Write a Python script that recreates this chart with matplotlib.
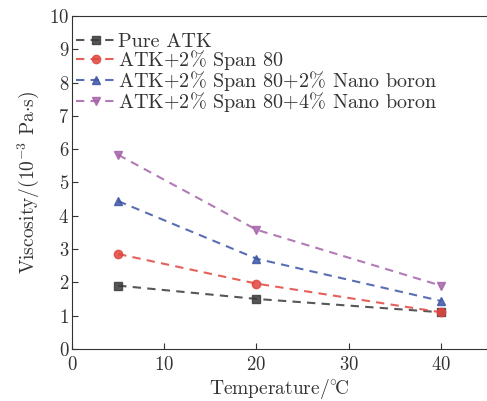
import matplotlib
matplotlib.use("Agg")
import matplotlib.pyplot as plt

plt.rcParams['font.family'] = 'serif'
plt.rcParams['font.serif'] = ['cmr10', 'DejaVu Serif']
plt.rcParams['mathtext.fontset'] = 'cm'
plt.rcParams['axes.formatter.use_mathtext'] = True

temps = [5, 20, 40]
pure_atk = [1.9, 1.5, 1.1]
span80 = [2.85, 1.96, 1.1]
nano2 = [4.44, 2.71, 1.44]
nano4 = [5.83, 3.58, 1.9]
labels = ['Pure ATK', 'ATK+2% Span 80', 'ATK+2% Span 80+2% Nano boron',
          'ATK+2% Span 80+4% Nano boron']
colors = ['#3a3a3a', '#e0453e', '#3d56a6', '#a563a9']
markers = ['s', 'o', '^', 'v']

fig = plt.figure(figsize=(4.87, 4.01), dpi=100)
ax = fig.add_axes([0.148, 0.130, 0.852, 0.830])
for ys, lab, c, m in zip([pure_atk, span80, nano2, nano4], labels, colors, markers):
    ax.plot(temps, ys, linestyle=(0, (4, 3)), color=c, lw=1.5, alpha=0.85,
            marker=m, markersize=6, markerfacecolor=c, markeredgecolor=c,
            label=lab.replace('%', r'$\%$'))

ax.set_xlim(0, 45)
ax.set_ylim(0, 10)
ax.set_xticks([0, 10, 20, 30, 40])
ax.set_yticks(range(0, 11))
ax.tick_params(direction='in', labelsize=13.5, colors='#333333', length=4, pad=2)
ax.tick_params(axis='x', pad=5)
for s in ['left', 'bottom', 'top']:
    ax.spines[s].set_color('#333333')
ax.spines['right'].set_visible(False)
ax.set_xlabel(r'Temperature/$^{\circ}\!$C', fontsize=14, color='#333333', labelpad=2)
ax.set_ylabel(r'Viscosity/(10$^{-3}$ Pa$\cdot$s)', fontsize=14, color='#333333', labelpad=6)
leg = ax.legend(loc='upper left', frameon=False, fontsize=14.5, handlelength=2.0,
                handletextpad=0.1, labelspacing=-0.15, borderaxespad=0.2,
                bbox_to_anchor=(-0.02, 0.985))
for t in leg.get_texts():
    t.set_color('#333333')
fig.savefig('out.png', dpi=100)
